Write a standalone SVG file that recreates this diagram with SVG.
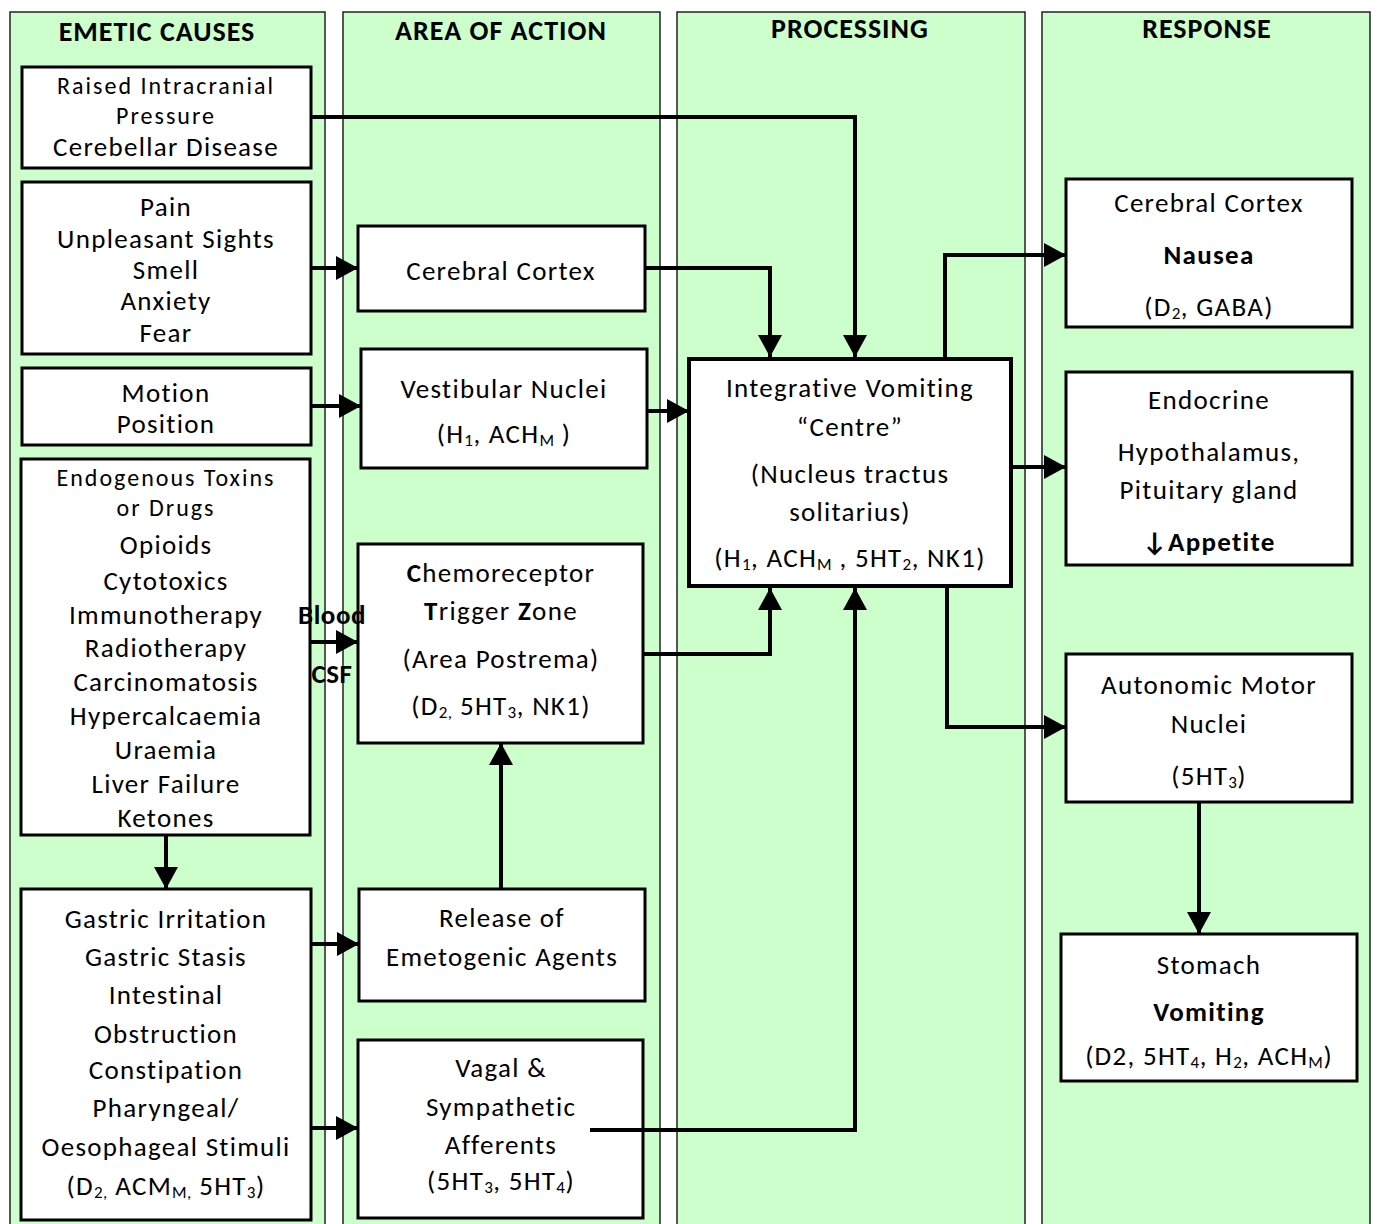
<svg xmlns="http://www.w3.org/2000/svg" width="1380" height="1224" viewBox="0 0 1380 1224">
<defs>
<style>
.panel{fill:#CCFFCC;stroke:#222;stroke-width:1.5}
.box{fill:#fff;stroke:#000;stroke-width:3}
.thick{stroke-width:4}
text{font-family:Carlito,Lato,"Liberation Sans",sans-serif;font-size:27px;letter-spacing:1.3px;fill:#000;text-anchor:middle;dominant-baseline:central}
.hdr{font-weight:bold;font-size:28px;letter-spacing:1px}
.b{font-weight:bold}
.sm{font-size:24px;letter-spacing:2px}
.sub{font-size:17px;letter-spacing:0.5px}
.con{fill:none;stroke:#000;stroke-width:4}
</style>
<marker id="ah" viewBox="0 0 22 24" refX="22" refY="12" markerWidth="22" markerHeight="24" orient="auto" markerUnits="userSpaceOnUse">
<path d="M0,0 L22,12 L0,24 z" fill="#000"/>
</marker>
</defs>
<rect width="1380" height="1224" fill="#fff"/>
<g id="panels">
<rect class="panel" x="10" y="12" width="315" height="1220"/>
<rect class="panel" x="343" y="12" width="317" height="1220"/>
<rect class="panel" x="677" y="12" width="348" height="1220"/>
<rect class="panel" x="1042" y="12" width="328" height="1220"/>
<text class="hdr" x="157" y="31">EMETIC CAUSES</text>
<text class="hdr" x="501" y="30">AREA OF ACTION</text>
<text class="hdr" x="850" y="28">PROCESSING</text>
<text class="hdr" x="1207" y="28">RESPONSE</text>
</g>
<g id="raised">
<rect class="box" x="22" y="67" width="289" height="101"/>
<text class="sm" x="166" y="85">Raised Intracranial</text>
<text class="sm" x="166" y="115">Pressure</text>
<text x="166" y="146">Cerebellar Disease</text>
</g>
<g id="pain">
<rect class="box" x="22" y="182" width="289" height="172"/>
<text x="166" y="206">Pain</text>
<text x="166" y="238">Unpleasant Sights</text>
<text x="166" y="269">Smell</text>
<text x="166" y="300">Anxiety</text>
<text x="166" y="332">Fear</text>
</g>
<g id="motion">
<rect class="box" x="22" y="368" width="289" height="77"/>
<text x="166" y="392">Motion</text>
<text x="166" y="423">Position</text>
</g>
<g id="endogenous">
<rect class="box" x="21" y="459" width="289" height="376"/>
<text class="sm" x="166" y="477">Endogenous Toxins</text>
<text class="sm" x="166" y="507">or Drugs</text>
<text x="166" y="544">Opioids</text>
<text x="166" y="580">Cytotoxics</text>
<text x="166" y="614">Immunotherapy</text>
<text x="166" y="647">Radiotherapy</text>
<text x="166" y="681">Carcinomatosis</text>
<text x="166" y="715">Hypercalcaemia</text>
<text x="166" y="749">Uraemia</text>
<text x="166" y="783">Liver Failure</text>
<text x="166" y="817">Ketones</text>
</g>
<g id="gastric">
<rect class="box" x="21" y="889" width="290" height="331"/>
<text x="166" y="918">Gastric Irritation</text>
<text x="166" y="956">Gastric Stasis</text>
<text x="166" y="994">Intestinal</text>
<text x="166" y="1033">Obstruction</text>
<text x="166" y="1069">Constipation</text>
<text x="166" y="1107">Pharyngeal/</text>
<text x="166" y="1146">Oesophageal Stimuli</text>
<text x="166" y="1185">(D<tspan class="sub" dy="7">2,</tspan><tspan dy="-7"> ACM</tspan><tspan class="sub" dy="7">M,</tspan><tspan dy="-7"> 5HT</tspan><tspan class="sub" dy="7">3</tspan><tspan dy="-7">)</tspan></text>
</g>
<g id="cortex1">
<rect class="box" x="358" y="226" width="287" height="85"/>
<text x="501" y="270">Cerebral Cortex</text>
</g>
<g id="vestibular">
<rect class="box" x="361" y="349" width="286" height="119"/>
<text x="504" y="388">Vestibular Nuclei</text>
<text x="504" y="433">(H<tspan class="sub" dy="7">1</tspan><tspan dy="-7">, ACH</tspan><tspan class="sub" dy="7">M</tspan><tspan dy="-7"> )</tspan></text>
</g>
<g id="ctz">
<rect class="box" x="358" y="544" width="285" height="199"/>
<text x="501" y="572"><tspan class="b">C</tspan>hemoreceptor</text>
<text x="501" y="610"><tspan class="b">T</tspan>rigger <tspan class="b">Z</tspan>one</text>
<text x="501" y="658">(Area Postrema)</text>
<text x="501" y="705">(D<tspan class="sub" dy="7">2,</tspan><tspan dy="-7"> 5HT</tspan><tspan class="sub" dy="7">3</tspan><tspan dy="-7">, NK1)</tspan></text>
</g>
<g id="release">
<rect class="box" x="359" y="889" width="286" height="112"/>
<text x="502" y="917">Release of</text>
<text x="502" y="956">Emetogenic Agents</text>
</g>
<g id="vagal">
<rect class="box" x="358" y="1040" width="285" height="178"/>
<text x="501" y="1067">Vagal &amp;</text>
<text x="501" y="1106">Sympathetic</text>
<text x="501" y="1144">Afferents</text>
<text x="501" y="1180">(5HT<tspan class="sub" dy="7">3</tspan><tspan dy="-7">, 5HT</tspan><tspan class="sub" dy="7">4</tspan><tspan dy="-7">)</tspan></text>
</g>
<g id="integrative">
<rect class="box thick" x="689" y="359" width="322" height="227"/>
<text x="850" y="387">Integrative Vomiting</text>
<text x="850" y="426">“Centre”</text>
<text x="850" y="473">(Nucleus tractus</text>
<text x="850" y="511">solitarius)</text>
<text x="850" y="557">(H<tspan class="sub" dy="7">1</tspan><tspan dy="-7">, ACH</tspan><tspan class="sub" dy="7">M</tspan><tspan dy="-7"> , 5HT</tspan><tspan class="sub" dy="7">2</tspan><tspan dy="-7">, NK1)</tspan></text>
</g>
<g id="nausea">
<rect class="box" x="1066" y="179" width="286" height="148"/>
<text x="1209" y="202">Cerebral Cortex</text>
<text class="b" x="1209" y="254">Nausea</text>
<text x="1209" y="306">(D<tspan class="sub" dy="7">2</tspan><tspan dy="-7">, GABA)</tspan></text>
</g>
<g id="endocrine">
<rect class="box" x="1066" y="372" width="286" height="193"/>
<text x="1209" y="399">Endocrine</text>
<text x="1209" y="451">Hypothalamus,</text>
<text x="1209" y="489">Pituitary gland</text>
<text class="b" x="1209" y="541">↓Appetite</text>
</g>
<g id="autonomic">
<rect class="box" x="1066" y="654" width="286" height="148"/>
<text x="1209" y="684">Autonomic Motor</text>
<text x="1209" y="723">Nuclei</text>
<text x="1209" y="775">(5HT<tspan class="sub" dy="7">3</tspan><tspan dy="-7">)</tspan></text>
</g>
<g id="stomach">
<rect class="box" x="1061" y="934" width="296" height="147"/>
<text x="1209" y="964">Stomach</text>
<text class="b" x="1209" y="1011">Vomiting</text>
<text x="1209" y="1055">(D2, 5HT<tspan class="sub" dy="7">4</tspan><tspan dy="-7">, H</tspan><tspan class="sub" dy="7">2</tspan><tspan dy="-7">, ACH</tspan><tspan class="sub" dy="7">M</tspan><tspan dy="-7">)</tspan></text>
</g>
<g id="connectors">
<path class="con" d="M311,117 H855 V357" marker-end="url(#ah)"/>
<path class="con" d="M311,268 H358" marker-end="url(#ah)"/>
<path class="con" d="M645,268 H770 V357" marker-end="url(#ah)"/>
<path class="con" d="M311,406 H361" marker-end="url(#ah)"/>
<path class="con" d="M647,411 H689" marker-end="url(#ah)"/>
<path class="con" d="M310,642 H358" marker-end="url(#ah)"/>
<path class="con" d="M643,654 H770 V588" marker-end="url(#ah)"/>
<path class="con" d="M166,835 V889" marker-end="url(#ah)"/>
<path class="con" d="M311,944 H359" marker-end="url(#ah)"/>
<path class="con" d="M311,1128 H358" marker-end="url(#ah)"/>
<path class="con" d="M501,889 V743" marker-end="url(#ah)"/>
<path class="con" d="M590,1130 H855 V588" marker-end="url(#ah)"/>
<path class="con" d="M945,359 V255 H1066" marker-end="url(#ah)"/>
<path class="con" d="M1011,467 H1066" marker-end="url(#ah)"/>
<path class="con" d="M947,586 V727 H1066" marker-end="url(#ah)"/>
<path class="con" d="M1199,802 V934" marker-end="url(#ah)"/>
<text class="b" x="332" y="614" style="letter-spacing:0.5px">Blood</text>
<text class="b" x="332" y="673" style="letter-spacing:0.5px">CSF</text>
</g>
</svg>
